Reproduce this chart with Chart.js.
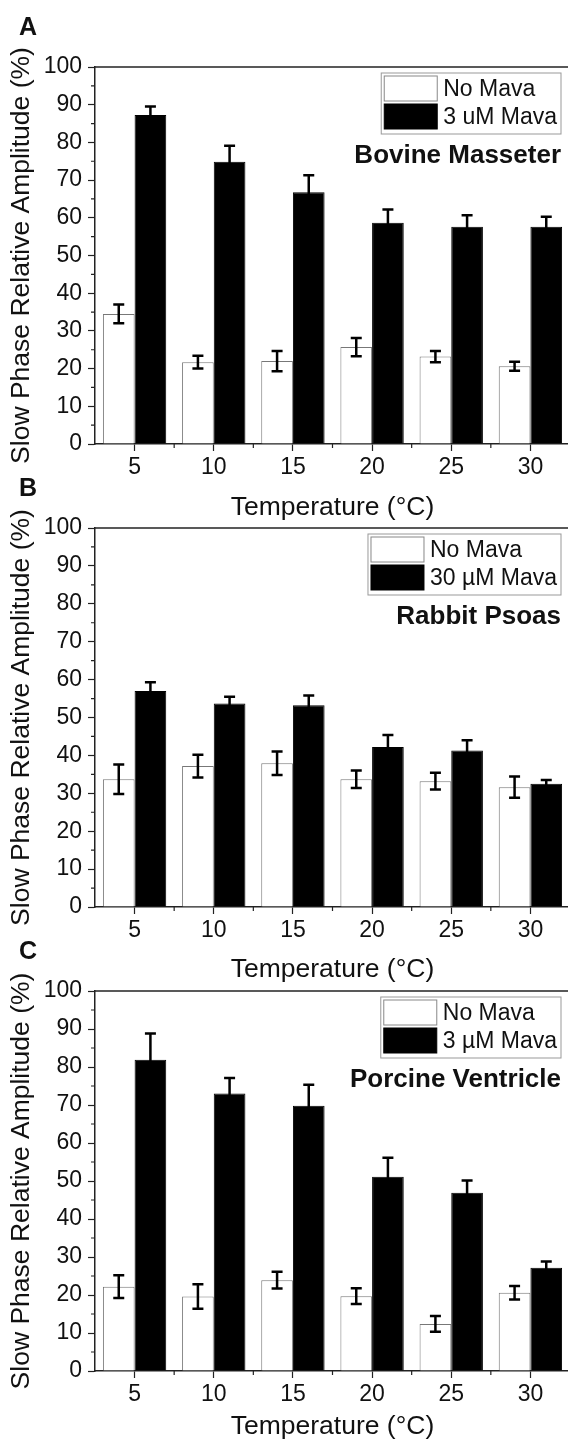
<!DOCTYPE html>
<html>
<head>
<meta charset="utf-8">
<script src="https://cdn.jsdelivr.net/npm/chart.js@4.4.1/dist/chart.umd.min.js"></script>
<style>
  html, body { margin: 0; padding: 0; background: #fff; overflow: hidden; width: 568px; height: 1446px; }
  .panel { position: absolute; left: 0; width: 570px; }
</style>
</head>
<body>
<div class="panel" style="top:0px;height:544px"><canvas id="chartA"></canvas></div>
<div class="panel" style="top:461px;height:546px"><canvas id="chartB"></canvas></div>
<div class="panel" style="top:924px;height:547px"><canvas id="chartC"></canvas></div>
<script>
// temperatures (°C)
const temps = ["5", "10", "15", "20", "25", "30"];
const yTicks = [0, 10, 20, 30, 40, 50, 60, 70, 80, 90, 100];

// A: bovine masseter
const noMavaA = [34.5, 21.7, 22.0, 25.7, 23.2, 20.6];
const noMavaErrA = [2.5, 1.7, 2.7, 2.4, 1.5, 1.2];
const mavaA = [87.3, 74.9, 66.8, 58.7, 57.6, 57.6];
const mavaErrA = [2.2, 4.2, 4.5, 3.5, 3.1, 2.7];

// B: rabbit psoas
const noMavaB = [33.7, 37.2, 37.9, 33.7, 33.2, 31.6];
const noMavaErrB = [3.9, 3.0, 3.1, 2.3, 2.2, 2.8];
const mavaB = [57.0, 53.7, 53.2, 42.2, 41.3, 32.5];
const mavaErrB = [2.3, 1.8, 2.6, 3.2, 2.7, 1.0];

// C: porcine ventricle
const noMavaC = [22.2, 19.6, 23.9, 19.7, 12.4, 20.6];
const noMavaErrC = [3.0, 3.2, 2.2, 2.1, 2.1, 1.8];
const mavaC = [81.9, 73.0, 69.8, 51.1, 46.9, 27.2];
const mavaErrC = [6.9, 4.1, 5.5, 5.0, 3.2, 1.6];

const FONT = "'Liberation Sans', Arial, sans-serif";
Chart.defaults.font.family = FONT;
Chart.defaults.color = "#111";

// error bars, minor ticks, frame, legend box and panel labels
const panelDecor = {
  id: "panelDecor",
  afterDatasetsDraw(chart) {
    const ctx = chart.ctx, y = chart.scales.y;
    ctx.save();
    ctx.strokeStyle = "#000";
    ctx.lineWidth = 2.5;
    chart.data.datasets.forEach((ds, i) => {
      chart.getDatasetMeta(i).data.forEach((bar, j) => {
        const v = ds.data[j], e = ds.errors[j];
        const yt = y.getPixelForValue(v + e), yb = y.getPixelForValue(v - e);
        ctx.beginPath();
        ctx.moveTo(bar.x, yt); ctx.lineTo(bar.x, yb);
        ctx.moveTo(bar.x - 5.5, yt); ctx.lineTo(bar.x + 5.5, yt);
        ctx.moveTo(bar.x - 5.5, yb); ctx.lineTo(bar.x + 5.5, yb);
        ctx.stroke();
      });
    });
    ctx.restore();
  },
  afterDraw(chart, args, opts) {
    const ctx = chart.ctx, a = chart.chartArea;
    const x = chart.scales.x, y = chart.scales.y;
    ctx.save();
    // top frame line
    ctx.strokeStyle = "#222";
    ctx.lineWidth = 1.5;
    ctx.beginPath();
    ctx.moveTo(a.left, a.top); ctx.lineTo(a.right + 2, a.top);
    ctx.stroke();
    // minor ticks
    ctx.lineWidth = 1.2;
    ctx.beginPath();
    for (let v = 5; v < 100; v += 10) {
      const py = y.getPixelForValue(v);
      ctx.moveTo(a.left - 4, py); ctx.lineTo(a.left, py);
    }
    for (let i = 1; i < temps.length; i++) {
      const px = x.getPixelForValue(i - 0.5);
      ctx.moveTo(px, a.bottom); ctx.lineTo(px, a.bottom + 4);
    }
    ctx.stroke();

    // legend box
    ctx.font = "23px " + FONT;
    const tw = Math.max(...opts.labels.map(t => ctx.measureText(t).width));
    const sw = 53, sh = 25, rowH = 28;
    const boxW = 3 + sw + 6 + tw + 4, boxH = 61;
    const bx = a.right - 9 - boxW, by = a.top + 6;
    ctx.strokeStyle = "#999";
    ctx.lineWidth = 1;
    ctx.strokeRect(bx, by, boxW, boxH);
    const fills = ["#fff", "#000"];
    opts.labels.forEach((t, k) => {
      const sy = by + 3 + k * rowH;
      ctx.fillStyle = fills[k];
      ctx.fillRect(bx + 3, sy, sw, sh);
      ctx.strokeStyle = k === 0 ? "#888" : "#000";
      ctx.strokeRect(bx + 3, sy, sw, sh);
      ctx.fillStyle = "#111";
      ctx.textAlign = "left";
      ctx.textBaseline = "middle";
      ctx.fillText(t, bx + 3 + sw + 6, sy + sh / 2 + 1);
    });

    // tissue name
    ctx.font = "bold 26px " + FONT;
    ctx.textAlign = "right";
    ctx.fillText(opts.subtitle, bx + boxW, by + boxH + 22);

    // panel letter
    ctx.font = "bold 25px " + FONT;
    ctx.textAlign = "center";
    ctx.fillText(opts.letter, 28, a.top - 39);
    ctx.restore();
  }
};
Chart.register(panelDecor);

function makeChart(id, noMava, noMavaErr, mava, mavaErr, labels, subtitle, letter, plotH, titlePad) {
  return new Chart(document.getElementById(id), {
    type: "bar",
    data: {
      labels: temps,
      datasets: [
        { label: labels[0], data: noMava, errors: noMavaErr, backgroundColor: "#fff",
          borderColor: "#777", borderWidth: 1, categoryPercentage: 0.8, barPercentage: 1.0 },
        { label: labels[1], data: mava, errors: mavaErr, backgroundColor: "#000",
          borderColor: "#000", borderWidth: 1, categoryPercentage: 0.8, barPercentage: 1.0 }
      ]
    },
    options: {
      responsive: true,
      maintainAspectRatio: false,
      animation: false,
      layout: { padding: { top: 67, left: 0, right: 0, bottom: 0 } },
      plugins: {
        legend: { display: false },
        tooltip: { enabled: false },
        panelDecor: { labels, subtitle, letter }
      },
      scales: {
        x: {
          offset: true,
          grid: { offset: false, drawOnChartArea: false, tickLength: 7, color: "#222", tickWidth: 1.2 },
          border: { display: true, color: "#222", width: 1.5 },
          ticks: { font: { size: 23 }, padding: 3, color: "#111", maxRotation: 0 },
          title: { display: true, text: "Temperature (°C)", font: { size: 26.5 }, color: "#111",
                   padding: { top: 0, bottom: titlePad } },
          afterFit(s) { s.height = 100; }
        },
        y: {
          min: 0, max: 100,
          afterBuildTicks(s) { s.ticks = yTicks.map(v => ({ value: v })); },
          grid: { drawOnChartArea: false, tickLength: 7, color: "#222", tickWidth: 1.2 },
          border: { display: true, color: "#222", width: 1.5 },
          ticks: { font: { size: 23 }, padding: 6, color: "#111" },
          title: { display: true, text: "Slow Phase Relative Amplitude (%)", font: { size: 26.5 },
                   color: "#111", padding: { top: 6, bottom: 0 } },
          afterFit(s) { s.width = 95; }
        }
      }
    }
  });
}

makeChart("chartA", noMavaA, noMavaErrA, mavaA, mavaErrA, ["No Mava", "3 uM Mava"], "Bovine Masseter", "A", 377, 20);
makeChart("chartB", noMavaB, noMavaErrB, mavaB, mavaErrB, ["No Mava", "30 µM Mava"], "Rabbit Psoas", "B", 379, 21);
makeChart("chartC", noMavaC, noMavaErrC, mavaC, mavaErrC, ["No Mava", "3 µM Mava"], "Porcine Ventricle", "C", 380, 28);
</script>
</body>
</html>
